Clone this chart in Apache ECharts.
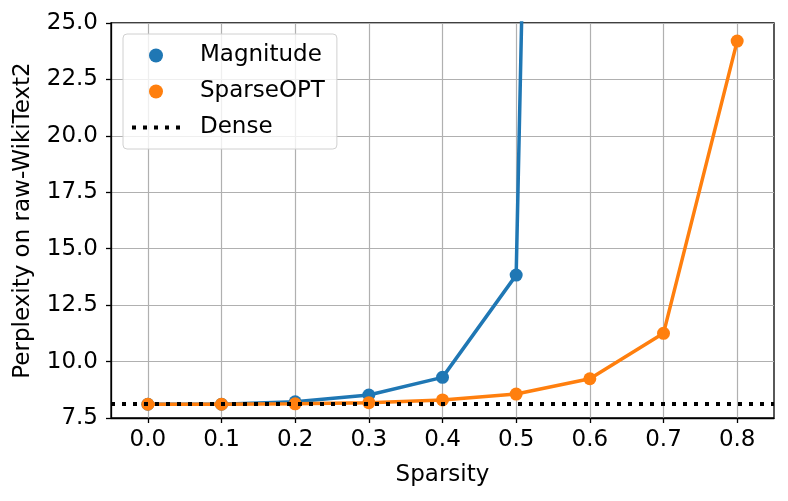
<!DOCTYPE html>
<html lang="en">
<head>
    <meta charset="utf-8" />
    <script src="https://cdn.jsdelivr.net/npm/echarts@6/dist/echarts.min.js"></script>
</head>
<body style="margin:0">

<div id="view1" style="height: 501px; width: 788px"></div>

<script>
    // data
    var sparsity = [0.0, 0.1, 0.2, 0.3, 0.4, 0.5, 0.6, 0.7, 0.8];
    var magnitude = [8.11, 8.11, 8.22, 8.52, 9.30, 13.83, 166];
    var sparseOpt = [8.11, 8.11, 8.13, 8.18, 8.30, 8.56, 9.24, 11.25, 24.2];
    var dense = 8.11;
    var xTicks = [0.0, 0.1, 0.2, 0.3, 0.4, 0.5, 0.6, 0.7, 0.8];

    var FONT = "DejaVu Sans";
    var FS = 23;
    var BLUE = "#1f77b4", ORANGE = "#ff7f0e";
    // five square dots, same rhythm as the dotted line
    var DOTS = "path://M0,0h4v4h-4zM11,0h4v4h-4zM22,0h4v4h-4zM33,0h4v4h-4zM44,0h4v4h-4z";

    function pairs(xs, ys){
        return ys.map(function(y, i){ return [xs[i], y]; });
    }

    var chart = echarts.init(document.getElementById("view1"));

    var option = {
        animation: false,
        textStyle: { fontFamily: FONT },
        grid: {
            left: 111, right: 14, top: 23, bottom: 83,
            show: true, borderColor: "#000", borderWidth: 1.3
        },
        legend: {
            orient: "vertical",
            left: 123, top: 34,
            padding: [10, 12, 10, 9],
            backgroundColor: "rgba(255,255,255,0.8)",
            borderColor: "#d0d0d0", borderWidth: 1, borderRadius: 4,
            itemWidth: 48, itemHeight: 14, itemGap: 13,
            textStyle: { fontFamily: FONT, fontSize: FS, color: "#000", lineHeight: 23, padding: [0, 0, 0, 15] },
            data: [
                { name: "Magnitude", icon: "circle" },
                { name: "SparseOPT", icon: "circle" },
                { name: "Dense", icon: DOTS }
            ]
        },
        xAxis: {
            type: "value",
            min: -0.05, max: 0.85,
            name: "Sparsity",
            nameLocation: "middle",
            nameGap: 46,
            nameTextStyle: { fontFamily: FONT, fontSize: FS, color: "#000" },
            axisLine: { show: true, onZero: false, lineStyle: { color: "#000", width: 1.3 } },
            axisTick: { show: true, length: 5, customValues: xTicks, lineStyle: { color: "#000", width: 1.3 } },
            axisLabel: {
                customValues: xTicks, margin: 11,
                fontFamily: FONT, fontSize: FS, color: "#000",
                formatter: function(v){ return v.toFixed(1); }
            },
            splitLine: { show: true, lineStyle: { color: "#b0b0b0", width: 1.2 } }
        },
        yAxis: {
            type: "value",
            min: 7.5, max: 25, interval: 2.5,
            name: "Perplexity on raw-WikiText2",
            nameLocation: "middle",
            nameGap: 76,
            nameTextStyle: { fontFamily: FONT, fontSize: FS, color: "#000" },
            axisLine: { show: true, onZero: false, lineStyle: { color: "#000", width: 1.3 } },
            axisTick: { show: true, length: 5, lineStyle: { color: "#000", width: 1.3 } },
            axisLabel: {
                margin: 13,
                fontFamily: FONT, fontSize: FS, color: "#000",
                formatter: function(v){ return v.toFixed(1); }
            },
            splitLine: { show: true, lineStyle: { color: "#b0b0b0", width: 1.2 } }
        },
        series: [
            {
                name: "Dense",
                type: "line",
                data: [],
                symbol: "none",
                z: 1,
                lineStyle: { color: "#000", width: 4, type: [4, 7] },
                itemStyle: { color: "#000" },
                markLine: {
                    silent: true,
                    symbol: "none",
                    label: { show: false },
                    lineStyle: { color: "#000", width: 4, type: [4, 7] },
                    data: [{ yAxis: dense }]
                }
            },
            {
                name: "Magnitude",
                type: "line",
                data: pairs(sparsity, magnitude),
                symbol: "circle", symbolSize: 13,
                z: 2,
                lineStyle: { color: BLUE, width: 3.5 },
                itemStyle: { color: BLUE }
            },
            {
                name: "SparseOPT",
                type: "line",
                data: pairs(sparsity, sparseOpt),
                symbol: "circle", symbolSize: 13,
                z: 3,
                lineStyle: { color: ORANGE, width: 3.5 },
                itemStyle: { color: ORANGE }
            }
        ]
    };

    chart.setOption(option);
</script>

</body>
</html>
